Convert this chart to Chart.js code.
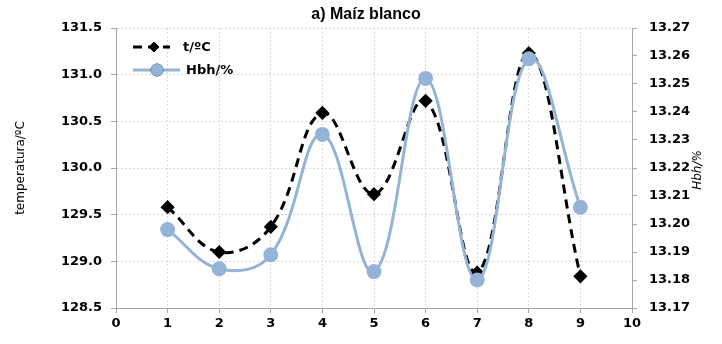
<!DOCTYPE html>
<html>
<head>
<meta charset="utf-8">
<script src="https://cdn.jsdelivr.net/npm/chart.js@4"></script>
<style>
html,body{margin:0;padding:0;background:#fff;}
#wrap{width:722px;height:344px;position:relative;}
</style>
</head>
<body>
<div id="wrap"><canvas id="c" width="722" height="344"></canvas></div>
<script>
const titleText = "a) Maíz blanco";
const leftTitle = "temperatura/ºC";
const rightTitle = "Hbh/%";
const xValues = [1, 2, 3, 4, 5, 6, 7, 8, 9];
const tempLabel = "t/ºC";
const tempValues = [129.58, 129.10, 129.37, 130.59, 129.72, 130.72, 128.88, 131.23, 128.84];
const hbhLabel = "Hbh/%";
const hbhValues = [13.198, 13.184, 13.189, 13.232, 13.183, 13.252, 13.180, 13.259, 13.206];
const xMin = 0, xMax = 10, xStep = 1;
const tMin = 128.5, tMax = 131.5, tStep = 0.5;
const hMin = 13.17, hMax = 13.27, hStep = 0.01;

const BLUE = '#95b3d7';
const AXIS = '#a6a6a6';
const GRID = '#d9d9d9';
const tickFont = {family: 'DejaVu Sans', size: 13, weight: 'bold'};

const overlay = {
  id: 'overlay',
  afterDraw(chart) {
    const ctx = chart.ctx;
    ctx.save();
    // title
    ctx.fillStyle = '#000';
    ctx.font = 'bold 16px "Liberation Sans", Arial, sans-serif';
    ctx.textAlign = 'center';
    ctx.textBaseline = 'middle';
    ctx.fillText(titleText, 366, 15);
    // left axis title
    ctx.font = '12px "DejaVu Sans", sans-serif';
    ctx.save();
    ctx.translate(21, 168);
    ctx.rotate(-Math.PI / 2);
    ctx.fillText(leftTitle, 0, 0);
    ctx.restore();
    // right axis title
    ctx.font = 'italic 12px "DejaVu Sans", sans-serif';
    ctx.save();
    ctx.translate(698, 170);
    ctx.rotate(-Math.PI / 2);
    ctx.fillText(rightTitle, 0, 0);
    ctx.restore();
    // legend
    const items = [
      {ds: chart.data.datasets[0], y: 47, x0: 133, x1: 170, mx: 154, tx: 183},
      {ds: chart.data.datasets[1], y: 70, x0: 133, x1: 180, mx: 157, tx: 186}
    ];
    ctx.font = 'bold 13px "DejaVu Sans", sans-serif';
    ctx.textAlign = 'left';
    for (const it of items) {
      const ds = it.ds;
      ctx.save();
      ctx.strokeStyle = ds.borderColor;
      ctx.lineWidth = ds.borderWidth;
      ctx.setLineDash(ds.borderDash || []);
      ctx.beginPath();
      ctx.moveTo(it.x0, it.y);
      ctx.lineTo(it.x1, it.y);
      ctx.stroke();
      ctx.restore();
      Chart.helpers.drawPoint(ctx, {
        pointStyle: ds.pointStyle, radius: ds.pointRadius, borderWidth: 1, rotation: 0
      }, it.mx, it.y);
      ctx.fillStyle = ds.pointBackgroundColor;
      ctx.strokeStyle = ds.pointBorderColor;
      ctx.fill();
      ctx.stroke();
      ctx.fillStyle = '#000';
      ctx.fillText(ds.label, it.tx, it.y + 1);
    }
    ctx.restore();
  }
};

new Chart(document.getElementById('c'), {
  type: 'line',
  data: {
    datasets: [
      {
        label: tempLabel,
        data: xValues.map((x, i) => ({x: x, y: tempValues[i]})),
        yAxisID: 'y',
        borderColor: '#000',
        borderWidth: 3,
        borderDash: [9, 6],
        pointStyle: 'rectRot',
        pointRadius: 5,
        pointBackgroundColor: '#000',
        pointBorderColor: '#000',
        tension: 0.4,
        order: 2
      },
      {
        label: hbhLabel,
        data: xValues.map((x, i) => ({x: x, y: hbhValues[i]})),
        yAxisID: 'y2',
        borderColor: BLUE,
        borderWidth: 3,
        pointStyle: 'circle',
        pointRadius: 6,
        pointBackgroundColor: BLUE,
        pointBorderColor: BLUE,
        tension: 0.4,
        order: 1
      }
    ]
  },
  options: {
    responsive: false,
    animation: false,
    layout: {padding: {top: 28, left: 0, right: 0, bottom: 0}},
    plugins: {legend: {display: false}, title: {display: false}, tooltip: {enabled: false}},
    scales: {
      x: {
        type: 'linear', min: xMin, max: xMax,
        ticks: {stepSize: xStep, color: '#000', font: tickFont, padding: 3},
        grid: {color: GRID, tickColor: AXIS, tickLength: 5, tickBorderDash: []},
        border: {color: AXIS, width: 1, dash: [2, 2]},
        afterFit(s) { s.height = 36; }
      },
      y: {
        position: 'left', min: tMin, max: tMax,
        ticks: {stepSize: tStep, color: '#000', font: tickFont, padding: 9,
          callback: v => Number(v).toFixed(1)},
        grid: {color: GRID, tickColor: AXIS, tickLength: 5, tickBorderDash: []},
        border: {color: AXIS, width: 1, dash: [2, 2]},
        afterFit(s) { s.width = 116; }
      },
      y2: {
        position: 'right', min: hMin, max: hMax,
        ticks: {stepSize: hStep, color: '#000', font: tickFont, padding: 12,
          callback: v => Number(v).toFixed(2)},
        grid: {drawOnChartArea: false, color: GRID, tickColor: AXIS, tickLength: 5, tickBorderDash: []},
        border: {color: AXIS, width: 1},
        afterFit(s) { s.width = 90; }
      }
    }
  },
  plugins: [overlay]
});
</script>
</body>
</html>
